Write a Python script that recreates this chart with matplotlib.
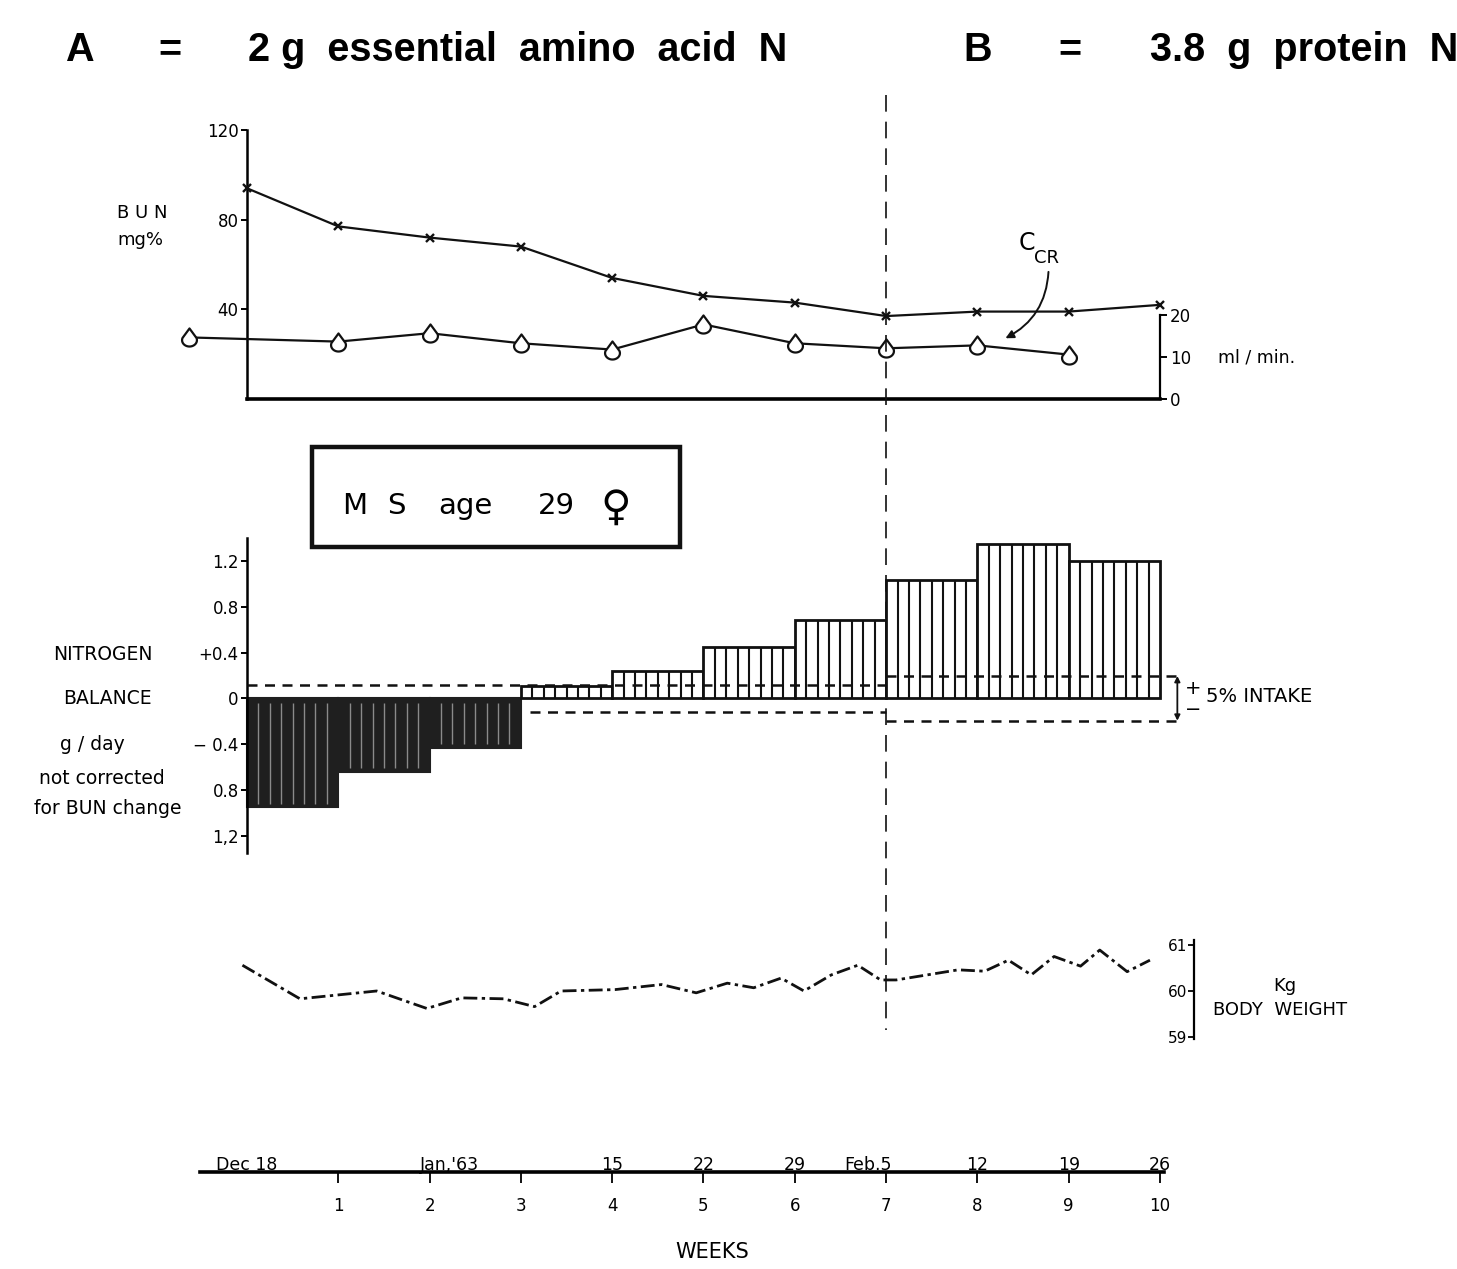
import numpy as np
import matplotlib
matplotlib.use("Agg")
import matplotlib.pyplot as plt
from matplotlib.path import Path
from matplotlib.patches import Rectangle
from matplotlib.lines import Line2D
from matplotlib.transforms import blended_transform_factory, offset_copy

# ---------------- data ----------------
bun_weeks = [0, 1, 2, 3, 4, 5, 6, 7, 8, 9, 10]
bun_mg = [94, 77, 72, 68, 54, 46, 43, 37, 39, 39, 42]

ccr_weeks = [-0.64, 1, 2, 3, 4, 5, 6, 7, 8, 9]
ccr_ml = [14.7, 13.7, 15.7, 13.3, 11.8, 17.8, 13.3, 12.1, 12.8, 10.6]

nb_weeks = [0, 1, 2, 3, 4, 5, 6, 7, 8, 9]
nb_g = [-0.95, -0.64, -0.43, 0.11, 0.24, 0.45, 0.68, 1.03, 1.345, 1.2]
intake_A = 0.12   # +/- 5% intake, period A
intake_B = 0.195  # +/- 5% intake, period B

wt_weeks = [-0.05, 0.58, 1.42, 1.97, 2.35, 2.81, 3.15, 3.44, 4.03, 4.54, 4.92,
            5.26, 5.55, 5.85, 6.10, 6.40, 6.69, 6.94, 7.11, 7.79, 8.08, 8.34,
            8.59, 8.84, 9.13, 9.34, 9.64, 9.89]
wt_kg = [60.56, 59.83, 60.0, 59.62, 59.85, 59.83, 59.66, 60.0, 60.03, 60.14, 59.96,
         60.17, 60.07, 60.28, 60.0, 60.35, 60.56, 60.24, 60.24, 60.46, 60.43, 60.67,
         60.35, 60.75, 60.54, 60.89, 60.42, 60.67]

week_ticks = [1, 2, 3, 4, 5, 6, 7, 8, 9, 10]
date_weeks = [0, 2, 4, 5, 6, 7, 8, 9, 10]
date_labels = ["Dec 18", "Jan,'63", "15", "22", "29", "Feb.5", "12", "19", "26"]

bun_ticks = [40, 80, 120]
ccr_ticks = [0, 10, 20]
nb_ticks = [1.2, 0.8, 0.4, 0, -0.4, -0.8, -1.2]
nb_ticklabels = ["1.2", "0.8", "+0.4", "0", "\u2212 0.4", "0.8", "1,2"]
wt_ticks = [59, 60, 61]

# ---------------- layout ----------------
W, H = 1457, 1269
fig = plt.figure(figsize=(W / 100, H / 100), dpi=100)
fig.patch.set_facecolor("white")
plt.rcParams["font.family"] = ["DejaVu Sans"]

X0PX, PXW = 247.0, 91.3
XL = ((150 - X0PX) / PXW, (1250 - X0PX) / PXW)


def axpos(x0, y0, x1, y1):
    return [x0 / W, 1 - y1 / H, (x1 - x0) / W, (y1 - y0) / H]


def ftext(x, y, s, **kw):
    kw.setdefault("color", "black")
    return fig.text(x / W, 1 - y / H, s, **kw)


K = "#111111"
lab_font = dict(family="DejaVu Sans", fontsize=12)
side_font = dict(family="DejaVu Sans", fontsize=13.5)

# ---------------- title ----------------
tfont = dict(family="Liberation Sans", fontweight="bold", fontsize=28.5, va="baseline")
ftext(65, 61, "A", **tfont)
ftext(158, 61, "=", **tfont)
ftext(248, 61, "2 g  essential  amino  acid  N", **tfont)
ftext(963, 61, "B", **tfont)
ftext(1058, 61, "=", **tfont)
ftext(1150, 61, "3.8  g  protein  N", **tfont)

# ---------------- panel 1: BUN & Ccr ----------------
ax1 = fig.add_axes(axpos(150, 130, 1250, 399))
ax1.set_xlim(*XL)
ax1.set_ylim(0, 120)
ax1.patch.set_alpha(0)
for s in ("top", "right"):
    ax1.spines[s].set_visible(False)
ax1.spines["left"].set_position(("data", 0))
ax1.spines["left"].set_linewidth(1.8)
ax1.spines["bottom"].set_bounds(0, 10)
ax1.spines["bottom"].set_linewidth(2.6)
ax1.set_xticks([])
ax1.set_yticks(bun_ticks)
ax1.tick_params(axis="y", direction="out", length=4, width=1.4, labelsize=12, pad=2)
ax1.plot(bun_weeks, bun_mg, color=K, lw=1.6, marker="x", ms=6, mew=1.7, zorder=3)

ax1b = ax1.twinx()
ax1b.set_xlim(*XL)
ax1b.set_ylim(0, 64.2)
for s in ("top", "left", "bottom"):
    ax1b.spines[s].set_visible(False)
ax1b.spines["right"].set_position(("data", 10))
ax1b.spines["right"].set_bounds(0, 20)
ax1b.spines["right"].set_linewidth(1.6)
ax1b.set_yticks(ccr_ticks)
ax1b.tick_params(axis="y", direction="out", length=5, width=1.4, labelsize=12, pad=2)

th = np.deg2rad(np.linspace(160, 380, 30))
drop_v = np.column_stack([0.7 * np.cos(th), -0.25 + 0.6 * np.sin(th)])
drop_v = np.vstack([drop_v, [[0.0, 0.85]], drop_v[:1]])
drop = Path(drop_v, closed=True)
ax1b.plot(ccr_weeks, ccr_ml, color=K, lw=1.6, marker=drop, ms=13, mfc="white",
          mec=K, mew=1.6, clip_on=False, zorder=3)
ax1b.annotate("", xy=(8.28, 14.2), xytext=(8.78, 31.0),
              arrowprops=dict(arrowstyle="-|>", lw=1.4, color=K, mutation_scale=12,
                              connectionstyle="arc3,rad=-0.3"))
ftext(1019, 250, "C", fontsize=17, va="baseline")
ftext(1034, 263, "CR", fontsize=13, va="baseline")
ftext(1218, 358, "ml / min.", va="center", fontsize=12.5)
ftext(142, 213, "B U N", ha="center", va="center", fontsize=13)
ftext(140, 240, "mg%", ha="center", va="center", fontsize=13)

# ---------------- box ----------------
fig.add_artist(Rectangle((312 / W, 1 - 547 / H), 368 / W, 100 / H, transform=fig.transFigure,
                         fill=False, lw=3.2, edgecolor=K))
bfont = dict(family="DejaVu Sans", fontsize=21, va="baseline")
ftext(342, 514, "M", **bfont)
ftext(387, 514, "S", **bfont)
ftext(438, 514, "age", **bfont)
ftext(538, 514, "29", **bfont)
ftext(600, 520, "\u2640", family="DejaVu Sans", fontsize=30, va="baseline")

# ---------------- panel 2: nitrogen balance ----------------
ax2 = fig.add_axes(axpos(150, 538, 1250, 853))
ax2.set_xlim(*XL)
ax2.set_ylim(-1.35, 1.4)
ax2.patch.set_alpha(0)
for s in ("top", "right", "bottom"):
    ax2.spines[s].set_visible(False)
ax2.spines["left"].set_position(("data", 0))
ax2.spines["left"].set_linewidth(1.8)
ax2.set_xticks([])
ax2.set_yticks(nb_ticks)
ax2.set_yticklabels(nb_ticklabels)
ax2.tick_params(axis="y", direction="out", length=4, width=1.4, labelsize=12, pad=2)

for w, v in zip(nb_weeks, nb_g):
    xs = w + np.arange(1, 8) / 8
    if v < 0:
        ax2.bar(w, v, width=1, align="edge", color="#1f1f1f", edgecolor="#1f1f1f", lw=1.5, zorder=2)
        ax2.vlines(xs, -0.04, v + 0.03, colors="#8a8a8a", lw=1.0, zorder=3)
    else:
        ax2.bar(w, v, width=1, align="edge", color="white", edgecolor=K, lw=2.0, zorder=2)
        ax2.vlines(xs, 0, v, colors=K, lw=1.5, zorder=3)

dash = (0, (4, 3))
ax2.plot([0, 7], [intake_A, intake_A], color=K, lw=1.8, ls=dash, zorder=4)
ax2.plot([3.1, 7], [-intake_A, -intake_A], color=K, lw=1.8, ls=dash, zorder=4)
ax2.plot([7, 10.22], [intake_B, intake_B], color=K, lw=1.8, ls=dash, zorder=4)
ax2.plot([7, 10.22], [-intake_B, -intake_B], color=K, lw=1.8, ls=dash, zorder=4)
ax2.annotate("", xy=(10.19, -intake_B), xytext=(10.19, intake_B),
             arrowprops=dict(arrowstyle="<|-|>", lw=1.3, color=K, mutation_scale=8,
                             shrinkA=0, shrinkB=0))

ftext(1193, 689, "+", ha="center", va="center", fontsize=14)
ftext(1193, 709, "\u2212", ha="center", va="center", fontsize=14)
ftext(1206, 697, "5% INTAKE", va="center", fontsize=14)

ftext(103, 655, "NITROGEN", ha="center", va="center", **side_font)
ftext(107, 698, "BALANCE", ha="center", va="center", **side_font)
ftext(92, 745, "g / day", ha="center", va="center", **side_font)
ftext(102, 778, "not corrected", ha="center", va="center", **side_font)
ftext(108, 808, "for BUN change", ha="center", va="center", **side_font)

# ---------------- panel 3: body weight ----------------
ax3 = fig.add_axes(axpos(150, 930, 1250, 1050))
ax3.set_xlim(*XL)
ax3.set_ylim(58.717, 61.326)
ax3.patch.set_alpha(0)
for s in ("top", "right", "bottom"):
    ax3.spines[s].set_visible(False)
ax3.spines["left"].set_position(("data", 10.37))
ax3.spines["left"].set_bounds(58.95, 61.1)
ax3.spines["left"].set_linewidth(1.6)
ax3.set_xticks([])
ax3.set_yticks(wt_ticks)
ax3.tick_params(axis="y", direction="out", length=4, width=1.3, labelsize=11, pad=1)
ax3.plot(wt_weeks, wt_kg, color=K, lw=2.0, ls=(0, (5, 1.6, 1.2, 1.6)), clip_on=False)
ftext(1285, 986, "Kg", ha="center", va="center", fontsize=13)
ftext(1213, 1010, "BODY  WEIGHT", va="center", fontsize=13)

# ---------------- panel 4: time axis ----------------
ax4 = fig.add_axes(axpos(150, 1120, 1250, 1172))
ax4.set_xlim(*XL)
ax4.set_ylim(0, 1)
ax4.patch.set_alpha(0)
for s in ("top", "right", "left"):
    ax4.spines[s].set_visible(False)
ax4.spines["bottom"].set_bounds(-0.515, 10.04)
ax4.spines["bottom"].set_linewidth(2.6)
ax4.set_yticks([])
ax4.set_xticks(week_ticks)
ax4.set_xticklabels([str(t) for t in week_ticks])
ax4.tick_params(axis="x", direction="out", length=8, width=1.3, labelsize=12, pad=10)
date_ha = ["center", "left", "center", "center", "center", "right", "center", "center", "center"]
date_dx = [0, -10, 0, 0, 0, 6, 0, 0, 0]
for w, lab, ha, dx in zip(date_weeks, date_labels, date_ha, date_dx):
    tr = offset_copy(ax4.transData, fig=fig, x=dx * 0.72, y=-1.5, units="points")
    ax4.text(w, 0, lab, ha=ha, va="bottom", transform=tr, fontsize=12.5, clip_on=False)
ftext(712, 1252, "WEEKS", ha="center", va="center", fontsize=15)

# ---------------- vertical dashed line (start of period B) ----------------
trv = blended_transform_factory(ax2.transData, fig.transFigure)
fig.add_artist(Line2D([7, 7], [1 - 95 / H, 1 - 1030 / H], transform=trv,
                      color=K, lw=1.2, ls=(0, (10, 6))))

fig.savefig("out.png", dpi=100, facecolor="white")
